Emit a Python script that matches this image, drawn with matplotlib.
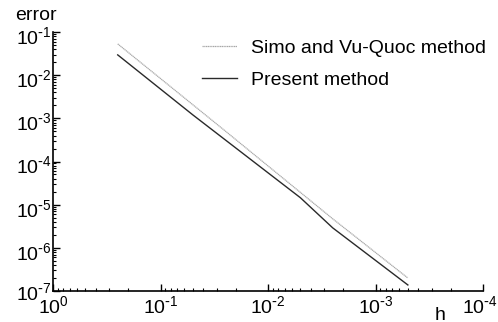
import numpy as np
import matplotlib
matplotlib.use('Agg')
import matplotlib.pyplot as plt
import matplotlib.transforms as mtransforms
from matplotlib.ticker import LogLocator, NullFormatter, FuncFormatter

plt.rcParams['font.family'] = ['Liberation Sans', 'DejaVu Sans']
plt.rcParams['mathtext.default'] = 'regular'

# data
h_simo = [0.25, 0.025, 0.0025, 0.0005]
err_simo = [5.3e-2, 5.1e-4, 4.7e-6, 2.0e-7]
h_present = [0.25, 0.05, 0.005, 0.0025, 0.0005]
err_present = [2.95e-2, 1.2e-3, 1.45e-5, 2.9e-6, 1.38e-7]


def pow_label(v, pos):
    n = int(round(np.log10(v)))
    if n < 0:
        return r'$10^{\text{-}%d}$' % (-n)
    return r'$10^{%d}$' % n


fig = plt.figure(figsize=(4.98, 3.22), dpi=100)
ax = fig.add_axes([53/498, 1 - 291/322, (483 - 53)/498, (291 - 32)/322])

ax.plot(h_simo, err_simo, color='#a8a8a8', lw=0.9, ls=(0, (1, 0.4)),
        label='Simo and Vu-Quoc method')
ax.plot(h_present, err_present, color='#2a2a2a', lw=1.0,
        label='Present method')

ax.set_xscale('log')
ax.set_yscale('log')
ax.set_xlim(1, 1e-4)
ax.set_ylim(1e-7, 1e-1)

for s in ['top', 'right']:
    ax.spines[s].set_visible(False)
for s in ['left', 'bottom']:
    ax.spines[s].set_linewidth(1.2)

ax.xaxis.set_major_locator(LogLocator(base=10, numticks=10))
ax.yaxis.set_major_locator(LogLocator(base=10, numticks=10))
ax.xaxis.set_minor_locator(LogLocator(base=10, subs=np.arange(2, 10), numticks=20))
ax.yaxis.set_minor_locator(LogLocator(base=10, subs=np.arange(2, 10), numticks=20))
ax.xaxis.set_major_formatter(FuncFormatter(pow_label))
ax.yaxis.set_major_formatter(FuncFormatter(pow_label))
ax.xaxis.set_minor_formatter(NullFormatter())
ax.yaxis.set_minor_formatter(NullFormatter())

ax.tick_params(which='major', direction='in', length=5, width=1, labelsize=14)
ax.tick_params(axis='y', which='major', pad=1)
ax.tick_params(axis='x', which='major', pad=3)
ax.tick_params(which='minor', direction='in', length=2.5, width=0.8)

fig.text(15/498, 1 - 16/322, 'error', fontsize=14, va='center', ha='left')
fig.text(440/498, 1 - 315/322, 'h', fontsize=14, va='center', ha='center')

ax.legend(loc='upper left', bbox_to_anchor=(202/498, 1 - 39/322),
          bbox_transform=fig.transFigure, frameon=False, fontsize=14,
          borderpad=0, borderaxespad=0, handlelength=1.8,
          handletextpad=0.7, labelspacing=0.75)

# small nudges of tick labels so they sit as in the original
fig.canvas.draw()
down = mtransforms.ScaledTranslation(0, -3/100, fig.dpi_scale_trans)
left = mtransforms.ScaledTranslation(-3/100, 0, fig.dpi_scale_trans)
for lab in ax.get_yticklabels():
    if '7' not in lab.get_text():
        lab.set_transform(lab.get_transform() + down)
for lab in ax.get_xticklabels():
    if '4' in lab.get_text():
        lab.set_transform(lab.get_transform() + left)

fig.savefig('out.png', dpi=100)
